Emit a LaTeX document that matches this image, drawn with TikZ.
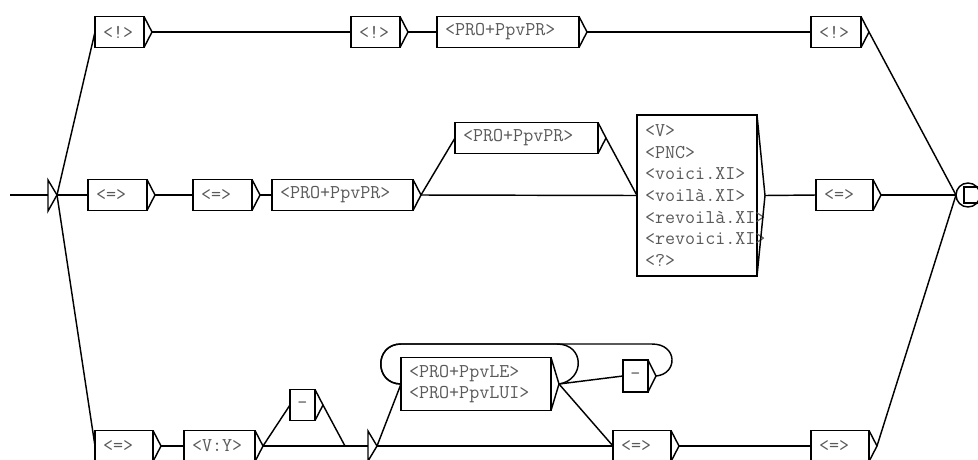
\documentclass[tikz,border=0pt]{standalone}
\usepackage{fontspec}
\usetikzlibrary{calc}
\newcommand\ubx[6]{% name, left x, width, centre y, height, text
  \pgfmathsetmacro\utw{#3-16}%
  \node[ubox, text width=\utw pt, minimum height=#5pt] (#1) at (#2,#4) {#6};
  \coordinate (#1t) at ($(#1.east)+(8,0)$);
  \draw[edge] (#1.north east) -- (#1t) -- (#1.south east);
}
\newcommand\ubxc[6]{% centred single-character box
  \node[ubox, inner xsep=0pt, minimum width=#3pt, minimum height=#5pt, align=center] (#1) at (#2,#4) {#6};
  \coordinate (#1t) at ($(#1.east)+(8,0)$);
  \draw[edge] (#1.north east) -- (#1t) -- (#1.south east);
}
\begin{document}
\begin{tikzpicture}[x=1pt,y=-1pt,
  edge/.style={line width=1.45pt},
  ubox/.style={draw, line width=1.45pt, rectangle, anchor=west, outer sep=0pt,
    inner xsep=8pt, inner ysep=0pt, align=left,
    font=\ttfamily\fontsize{19.5}{21.6}\selectfont, text=black!65},
]
\useasboundingbox (0,0) rectangle (978,459);
\clip (0,0) rectangle (978,459);

% initial state
\coordinate (s0) at (10,195);
\coordinate (ini) at (48,195);
\coordinate (initn) at (48,180);
\coordinate (inits) at (48,211);
\coordinate (init) at (57,195);
\draw[edge] (s0) -- (ini);
\draw[edge] (initn) -- (init) -- (inits) -- cycle;

% final state
\node[draw, circle, line width=1.45pt, minimum size=24pt, inner sep=0pt, outer sep=0pt] (fin) at (968,195) {};
\node[draw, rectangle, line width=1.45pt, minimum size=16pt, inner sep=0pt] (finsq) at (972,195) {};

% row 1
\ubx{a1}{95}{49}{32}{31}{<!>}
\ubx{a2}{351}{49}{32}{31}{<!>}
\ubx{a3}{437}{142}{32}{31}{<PRO+PpvPR>}
\ubx{a4}{811}{50}{32}{31}{<!>}

% row 2
\ubx{b1}{88}{59}{195}{31}{<=>}
\ubx{b2}{193}{59}{195}{31}{<=>}
\ubx{b3}{272}{141}{195}{31}{<PRO+PpvPR>}
\ubx{c}{455}{143}{138}{31}{<PRO+PpvPR>}
\ubx{d}{637}{120}{195.5}{161}{<V>\\<PNC>\\<voici.XI>\\<voilà.XI>\\<revoilà.XI>\\<revoici.XI>\\<?>}
\ubx{b4}{816}{57}{195}{31}{<=>}

% row 3
\ubx{e1}{95}{58}{446}{31}{<=>}
\ubx{e2}{184}{71}{446}{31}{<V:Y>}
\ubxc{f}{290}{25}{405}{31}{-}
\coordinate (eps) at (345,446);
\coordinate (epsl) at (368,446);
\coordinate (epsn) at (368,431);
\coordinate (epss) at (368,461);
\coordinate (epst) at (377,446);
\draw[edge] (epsn) -- (epst) -- (epss) -- cycle;
\ubx{g}{401}{150}{384}{53}{<PRO+PpvLE>\\<PRO+PpvLUI>}
\ubxc{h}{623}{25}{376}{32}{-}
\ubx{e3}{613}{58}{446}{31}{<=>}
\ubx{e4}{811}{58}{446}{31}{<=>}

% connectors
\draw[edge] (init) -- (a1.west);
\draw[edge] (a1t) -- (a2.west);
\draw[edge] (a2t) -- (a3.west);
\draw[edge] (a3t) -- (a4.west);
\draw[edge] (a4t) -- (fin.west);

\draw[edge] (init) -- (b1.west);
\draw[edge] (b1t) -- (b2.west);
\draw[edge] (b2t) -- (b3.west);
\draw[edge] (b3t) -- (c.west);
\draw[edge] (b3t) -- (d.west);
\draw[edge] (ct) -- (d.west);
\draw[edge] (dt) -- (b4.west);
\draw[edge] (b4t) -- (fin.west);

\draw[edge] (init) -- (e1.west);
\draw[edge] (e1t) -- (e2.west);
\draw[edge] (e2t) -- (f.west);
\draw[edge] (e2t) -- (eps);
\draw[edge] (ft) -- (eps);
\draw[edge] (eps) -- (epsl);
\draw[edge] (epst) -- (g.west);
\draw[edge] (epst) -- (e3.west);
\draw[edge] (gt) -- (e3.west);
\draw[edge] (gt) -- (h.west);
\draw[edge] (e3t) -- (e4.west);
\draw[edge] (e4t) -- (fin.west);

% loops
\draw[edge] (gt) .. controls (585,380) and (585,344) .. (557,344) -- (401,344)
  .. controls (374,344) and (374,384) .. (g.west);
\draw[edge] (ht) .. controls (678,374) and (678,344) .. (652,344) -- (401,344)
  .. controls (374,344) and (374,384) .. (g.west);
\end{tikzpicture}
\end{document}
